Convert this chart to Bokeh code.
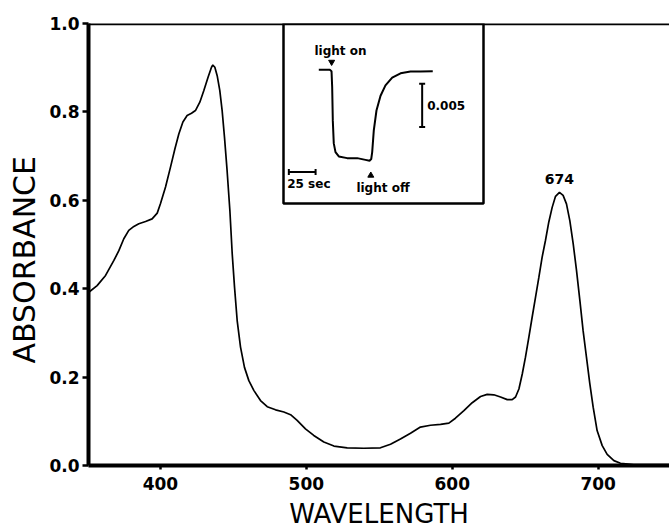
import numpy as np
from bokeh.plotting import figure
from bokeh.models import (Range1d, FixedTicker, PrintfTickFormatter, Span,
                          BoxAnnotation, Label, Title)
from bokeh.core.properties import value
from bokeh.embed import file_html
from bokeh.resources import INLINE

# ---------------- data ----------------
wavelength = [350.9, 356.6, 362.4, 368.1, 371.5, 374.9, 378.3, 381.8, 385.2,
              389.8, 394.3, 397.8, 400.0, 403.5, 406.9, 409.9, 412.6, 415.4,
              418.3, 421.3, 424.0, 427.0, 429.7, 432.7, 435.0, 435.9, 437.3,
              438.9, 440.7, 442.3, 443.9, 445.7, 447.6, 449.2, 450.8, 452.6,
              454.9, 457.6, 460.6, 464.0, 468.6, 473.2, 478.9, 484.6, 489.2,
              493.7, 499.4, 505.1, 512.0, 518.9, 528.0, 539.4, 550.8, 557.7,
              564.5, 571.4, 578.2, 585.1, 592.0, 597.7, 602.2, 608.0, 613.7,
              619.4, 624.0, 628.5, 633.1, 637.7, 641.1, 643.4, 645.7, 648.0,
              650.2, 652.5, 654.8, 657.1, 659.4, 661.6, 663.9, 666.2, 668.5,
              670.8, 673.5, 676.0, 678.3, 680.6, 682.9, 685.2, 687.5, 689.7,
              692.0, 694.3, 696.6, 699.3, 702.8, 706.2, 710.8, 715.3, 724.5,
              748.9]
absorbance = [0.392, 0.407, 0.430, 0.464, 0.486, 0.513, 0.532, 0.541, 0.547,
              0.552, 0.558, 0.571, 0.592, 0.630, 0.675, 0.716, 0.750, 0.777,
              0.792, 0.797, 0.803, 0.822, 0.848, 0.879, 0.901, 0.906, 0.901,
              0.882, 0.848, 0.803, 0.743, 0.667, 0.577, 0.479, 0.403, 0.328,
              0.268, 0.222, 0.192, 0.170, 0.147, 0.133, 0.126, 0.121, 0.115,
              0.102, 0.083, 0.068, 0.053, 0.044, 0.040, 0.039, 0.040, 0.048,
              0.060, 0.073, 0.087, 0.091, 0.093, 0.096, 0.107, 0.124, 0.142,
              0.156, 0.161, 0.160, 0.155, 0.149, 0.149, 0.155, 0.173, 0.207,
              0.245, 0.290, 0.336, 0.381, 0.426, 0.471, 0.509, 0.551, 0.584,
              0.609, 0.618, 0.611, 0.592, 0.554, 0.502, 0.441, 0.373, 0.305,
              0.245, 0.185, 0.132, 0.079, 0.045, 0.025, 0.011, 0.005, 0.002,
              0.002]

# inset: absorbance change (units of 1e-3) vs time (s)
time_s = [0, 10.3, 11.9, 12.5, 13.1, 14.0, 15.6, 18.7, 26.5, 35.9, 43.6, 47.4,
          49.0, 49.9, 51.4, 53.9, 57.7, 62.3, 68.6, 76.4, 85.7, 95.0, 106.5]
delta_abs_milli = [0, 0, -0.16, -2.0, -5.9, -8.5, -9.5, -10.0, -10.2, -10.2,
                   -10.4, -10.5, -10.3, -9.5, -7.0, -4.7, -3.0, -1.8, -0.9,
                   -0.4, -0.2, -0.2, -0.16]
light_on_t = 12.0
light_off_t = 48.6
scale_time_s = 25
scale_abs_milli = 5

x_ticks = [400, 500, 600, 700]
y_ticks = [0.0, 0.2, 0.4, 0.6, 0.8, 1.0]
peak_label = "674"

# ---------------- layout constants ----------------
W, H = 669, 531
BL, BR, BT, BB = 88, 0, 23, 66
X0 = 350.7
FRAME_W = W - BL - BR
FRAME_H = H - BT - BB
PX_PER_NM = 1.459
X1 = X0 + FRAME_W / PX_PER_NM

# inset coordinate system (pixels inside the frame)
px_per_s = 1.07
px_per_milli = 8.66
t0_px = 318.3 - BL          # frame-relative x of t = 0
d0_px = 69.3 - BT           # frame-relative y (from top) of delta = 0
t_range = Range1d(-t0_px / px_per_s, (FRAME_W - t0_px) / px_per_s)
d_range = Range1d(-(FRAME_H - d0_px) / px_per_milli, d0_px / px_per_milli)

BOLD_FONT = "DejaVu Sans"
LABEL_FONT = "DejaVu Sans"

p = figure(width=W, height=H, output_backend="svg", toolbar_location=None,
           x_range=Range1d(X0, X1), y_range=Range1d(0, 1.0),
           min_border_left=BL, min_border_right=BR, min_border_top=BT,
           min_border_bottom=BB)
p.outline_line_color = None
p.grid.visible = False
p.background_fill_color = "white"
p.border_fill_color = "white"

p.extra_x_ranges = {"t": t_range}
p.extra_y_ranges = {"dA": d_range}

# axes
for ax in (p.xaxis[0], p.yaxis[0]):
    ax.axis_line_width = 4
    ax.axis_line_color = "black"
    ax.major_tick_line_width = 2.5
    ax.major_tick_line_color = "black"
    ax.major_tick_in = 0
    ax.minor_tick_line_color = None
    ax.major_label_text_font = BOLD_FONT
    ax.major_label_text_font_style = "bold"
    ax.major_label_text_font_size = "17px"
    ax.major_label_text_color = "black"
    ax.axis_label_text_font = LABEL_FONT
    ax.axis_label_text_font_style = "normal"
    ax.axis_label_text_color = "black"

p.xaxis[0].ticker = FixedTicker(ticks=x_ticks)
p.xaxis[0].major_tick_out = 4
p.xaxis[0].major_label_standoff = 7
p.xaxis[0].axis_label = "WAVELENGTH"
p.xaxis[0].axis_label_text_font_size = "26px"
p.xaxis[0].axis_label_standoff = 6

p.yaxis[0].ticker = FixedTicker(ticks=y_ticks)
p.yaxis[0].formatter = PrintfTickFormatter(format="%.1f")
p.yaxis[0].major_tick_out = 6
p.yaxis[0].major_label_standoff = 3

# y-axis title, placed a little below the frame centre as in the original
p.add_layout(Title(text="ABSORBANCE", align="left", offset=102, standoff=9,
                   text_font=LABEL_FONT, text_font_style="normal",
                   text_font_size="30px", text_color="black"), "left")

# top frame line
p.add_layout(Span(location=1.0, dimension="width", line_color="black",
                  line_width=3.5))

# spectrum
p.line(wavelength, absorbance, line_color="black", line_width=1.7)

# peak label
i_red = int(np.argmax(np.where(np.array(wavelength) > 600, absorbance, -1)))
p.add_layout(Label(x=wavelength[i_red], y=absorbance[i_red] + 0.031,
                   text=peak_label, text_align="center",
                   text_baseline="alphabetic", text_font=BOLD_FONT,
                   text_font_style="bold", text_font_size="14px",
                   text_color="black"))

# inset box
p.add_layout(BoxAnnotation(left=X0 + (283 - BL) / PX_PER_NM,
                           right=X0 + (483 - BL) / PX_PER_NM,
                           bottom=(H - BB - 203) / FRAME_H, top=1.0,
                           fill_color=None, fill_alpha=0,
                           line_color="black", line_alpha=1.0,
                           line_width=2.5))

rn = dict(x_range_name="t", y_range_name="dA")
p.line(time_s, delta_abs_milli, line_color="black", line_width=2, **rn)

# markers for light on / off
p.scatter([light_on_t], [0.9], marker="inverted_triangle", size=6,
          color="black", **rn)
p.scatter([light_off_t], [-12.2], marker="triangle", size=6,
          color="black", **rn)

# scale bars
bar_t = 96.6
bar_top = -1.6
p.segment([bar_t], [bar_top], [bar_t], [bar_top - scale_abs_milli],
          line_color="black", line_width=2, **rn)
p.segment([bar_t - 2.8, bar_t - 2.8], [bar_top, bar_top - scale_abs_milli],
          [bar_t + 2.8, bar_t + 2.8], [bar_top, bar_top - scale_abs_milli],
          line_color="black", line_width=2, **rn)
tb_left = -28.0
tb_y = -11.8
p.segment([tb_left], [tb_y], [tb_left + scale_time_s], [tb_y],
          line_color="black", line_width=2, **rn)
p.segment([tb_left, tb_left + scale_time_s], [tb_y - 0.35, tb_y - 0.35],
          [tb_left, tb_left + scale_time_s], [tb_y + 0.35, tb_y + 0.35],
          line_color="black", line_width=2, **rn)

txt = dict(text_font=value(BOLD_FONT), text_font_style="bold",
           text_color="black", **rn)
p.text([20.3], [2.2], text=["light on"], text_align="center",
       text_baseline="middle", text_font_size="12px", **txt)
p.text([60.0], [-13.6], text=["light off"], text_align="center",
       text_baseline="middle", text_font_size="12px", **txt)
p.text([101.3], [-4.1], text=["0.005"], text_align="left",
       text_baseline="middle", text_font_size="12px", **txt)
p.text([-29.5], [-13.2], text=["25 sec"], text_align="left",
       text_baseline="middle", text_font_size="12px", **txt)

open("out.html", "w").write(file_html(p, INLINE))
